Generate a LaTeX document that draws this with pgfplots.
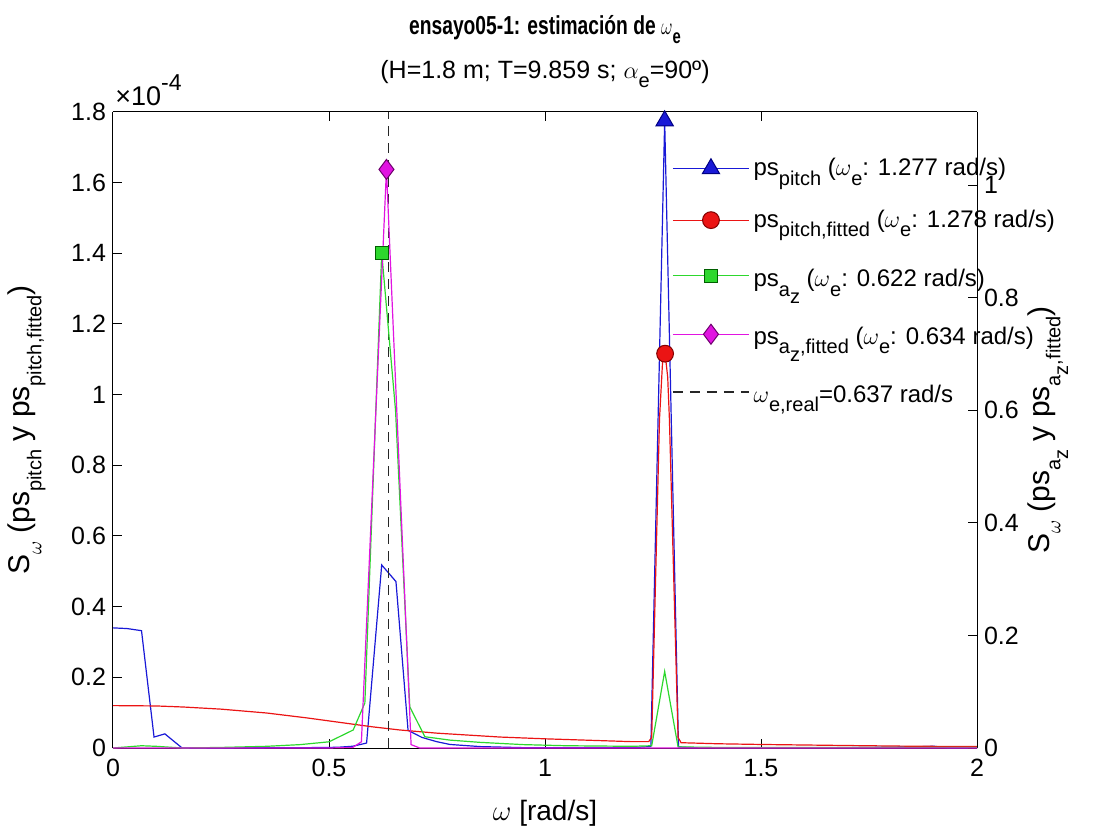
\documentclass[border=0pt]{standalone}
\usepackage{fontspec}
\setmainfont{Liberation Sans}
\usepackage{graphicx}
\usepackage{pgfplots}
\pgfplotsset{compat=1.18}

\newcommand\sub[1]{\raisebox{-0.38em}{\fontsize{10}{10}\selectfont #1}}
\newcommand\st[2]{\rule[-#2]{0pt}{\dimexpr#1+#2\relax}}

\definecolor{cblue}{RGB}{25,25,215}
\definecolor{cred}{RGB}{235,20,20}
\definecolor{cgreen}{RGB}{45,215,45}
\definecolor{cmag}{RGB}{225,20,225}
\definecolor{eblue}{RGB}{0,0,130}
\definecolor{ered}{RGB}{130,0,0}
\definecolor{egreen}{RGB}{0,95,0}
\definecolor{emag}{RGB}{110,0,110}

\pgfplotsset{
  every axis/.append style={
    scale only axis, width=432pt, height=318pt,
    xmin=0, xmax=2,
    tick align=inside, major tick length=4.5pt,
    axis line style={black, line width=0.5pt},
    every tick/.style={black, line width=0.5pt},
    /pgf/number format/assume math mode=true,
    tick label style={font=\fontsize{12.5}{14}\selectfont},
    label style={font=\fontsize{15}{17}\selectfont},
  },
  legend image code/.code={
    \draw[mark repeat=2,mark phase=2,#1] plot coordinates {(0pt,0pt) (19pt,0pt) (38pt,0pt)};
  },
}

\begin{document}
\begin{tikzpicture}

\begin{axis}[
  name=ax,
  axis y line*=left,
  ymin=0, ymax=1.8,
  ytick={0,0.2,0.4,0.6,0.8,1,1.2,1.4,1.6,1.8},
  xtick={0,0.5,1,1.5,2},
  xticklabel style={yshift=-2pt},
  xlabel={$\omega$ [rad/s]},
  xlabel style={at={(rel axis cs:0.5,-0.102)}, anchor=center, font=\fontsize{14}{16}\selectfont},
  ylabel={S\sub{$\omega$} (ps\sub{pitch} y ps\sub{pitch,fitted})},
  ylabel style={at={(rel axis cs:-0.07,0.5)}, anchor=south},
  title={\scalebox{0.74}[1]{\fontsize{13}{15}\selectfont\bfseries ensayo05-1: estimación de $\omega$\sub{e}}\\[7pt] (H=1.8 m; T=9.859 s; $\alpha$\sub{e}=90º)},
  title style={align=center, font=\fontsize{12.5}{14}\selectfont, yshift=2.5pt},
]
% ps_pitch (x1e-4)
\addplot[cblue, line width=0.6pt] coordinates {
(0,0.34) (0.033,0.338) (0.066,0.332) (0.095,0.031) (0.12,0.04) (0.16,0)
(0.25,0) (0.35,0.001) (0.45,0.001) (0.52,0.002) (0.555,0.005) (0.587,0.014)
(0.622,0.518) (0.655,0.471) (0.683,0.05) (0.715,0.03) (0.749,0.018) (0.78,0.01)
(0.85,0.004) (0.95,0.001) (1.05,0.001) (1.15,0.001) (1.215,0.002) (1.245,0.004)
(1.277,1.775) (1.309,0.003) (1.34,0.001) (1.5,0.001) (1.7,0.001) (1.85,0.003)
(1.9,0.005) (1.93,0.001) (2,0)
};
% ps_pitch,fitted (x1e-4)
\addplot[cred, line width=0.6pt] coordinates {
(0,0.12) (0.1,0.119) (0.163,0.116) (0.25,0.11) (0.356,0.099) (0.45,0.085)
(0.51,0.075) (0.6,0.06) (0.664,0.051) (0.75,0.042) (0.896,0.031) (1,0.026)
(1.1,0.022) (1.2,0.018) (1.24,0.018) (1.247,0.03) (1.265,0.93) (1.272,1.09)
(1.278,1.116) (1.284,1.05) (1.288,0.93) (1.308,0.03) (1.315,0.015) (1.4,0.012)
(1.5,0.01) (1.7,0.007) (1.85,0.005) (2,0.004)
};
% omega_e,real
\addplot[black!85, line width=0.6pt, dash pattern=on 5pt off 3.5pt] coordinates {(0.637,0) (0.637,1.8)};
% peak markers
\addplot[only marks, mark=triangle*, mark size=5pt, mark options={fill=cblue, draw=eblue, line width=0.5pt}] coordinates {(1.277,1.775)};
\addplot[only marks, mark=*, mark size=4.2pt, mark options={fill=cred, draw=ered, line width=0.5pt}] coordinates {(1.278,1.116)};
\end{axis}

\node[anchor=south west, font=\fontsize{13.5}{15}\selectfont, inner sep=1pt] at ([yshift=2pt]ax.north west) {×10\raisebox{0.55em}{\fontsize{11.5}{12}\selectfont -4}};

\begin{axis}[
  axis y line*=right,
  axis x line=none,
  ymin=0, ymax=1.13,
  ytick={0,0.2,0.4,0.6,0.8,1},
  ylabel={S\sub{$\omega$} (ps\sub{a\sub{z}} y ps\sub{a\sub{z},fitted})},
  ylabel style={at={(rel axis cs:1.05,0.5)}, anchor=north},
  legend style={at={(0.64,0.94)}, anchor=north west, draw=none, fill=none,
    font=\fontsize{12}{14}\selectfont, row sep=11.5pt},
  legend cell align=left,
]
\addlegendimage{cblue, line width=0.6pt, mark=triangle*, mark size=5pt, mark options={fill=cblue, draw=eblue, line width=0.5pt}}
\addlegendentry{ps\sub{pitch} ($\omega$\sub{e}: 1.277 rad/s)}
\addlegendimage{cred, line width=0.6pt, mark=*, mark size=4.2pt, mark options={fill=cred, draw=ered, line width=0.5pt}}
\addlegendentry{ps\sub{pitch,fitted} ($\omega$\sub{e}: 1.278 rad/s)}
% ps_az
\addplot[cgreen, line width=0.6pt, forget plot] coordinates {
(0,0) (0.033,0.002) (0.066,0.004) (0.1,0.003) (0.16,0) (0.25,0.001)
(0.356,0.003) (0.433,0.006) (0.5,0.011) (0.556,0.032) (0.583,0.08)
(0.622,0.88) (0.654,0.6) (0.687,0.073) (0.722,0.02) (0.78,0.014) (0.85,0.01)
(0.95,0.006) (1.05,0.004) (1.2,0.003) (1.247,0.004) (1.277,0.136) (1.308,0.002)
(1.4,0.001) (2,0.001)
};
\addlegendimage{cgreen, line width=0.6pt, mark=square*, mark size=3.3pt, mark options={fill=cgreen, draw=egreen, line width=0.5pt}}
\addlegendentry{\st{12.8pt}{10.9pt}ps\sub{a\sub{z}} ($\omega$\sub{e}: 0.622 rad/s)}
% ps_az,fitted
\addplot[cmag, line width=0.6pt, forget plot] coordinates {
(0,0) (0.5,0) (0.555,0.001) (0.575,0.011) (0.633,1.028) (0.69,0.006) (0.71,0) (2,0)
};
\addlegendimage{cmag, line width=0.6pt, mark=diamond*, mark size=5pt, mark options={fill=cmag, draw=emag, line width=0.5pt}}
\addlegendentry{\st{11.8pt}{10.4pt}ps\sub{a\sub{z},fitted} ($\omega$\sub{e}: 0.634 rad/s)}
\addlegendimage{black!85, line width=0.6pt, dash pattern=on 5pt off 3.5pt}
\addlegendentry{\st{12pt}{1pt}$\omega$\sub{e,real}=0.637 rad/s}
\addplot[only marks, forget plot, mark=square*, mark size=3.3pt, mark options={fill=cgreen, draw=egreen, line width=0.5pt}] coordinates {(0.622,0.88)};
\addplot[only marks, forget plot, mark=diamond*, mark size=5pt, mark options={fill=cmag, draw=emag, line width=0.5pt}] coordinates {(0.633,1.028)};
\end{axis}

\path ([xshift=-56.5pt,yshift=-45pt]ax.south west) rectangle ([xshift=61pt,yshift=56pt]ax.north east);
\end{tikzpicture}
\end{document}
